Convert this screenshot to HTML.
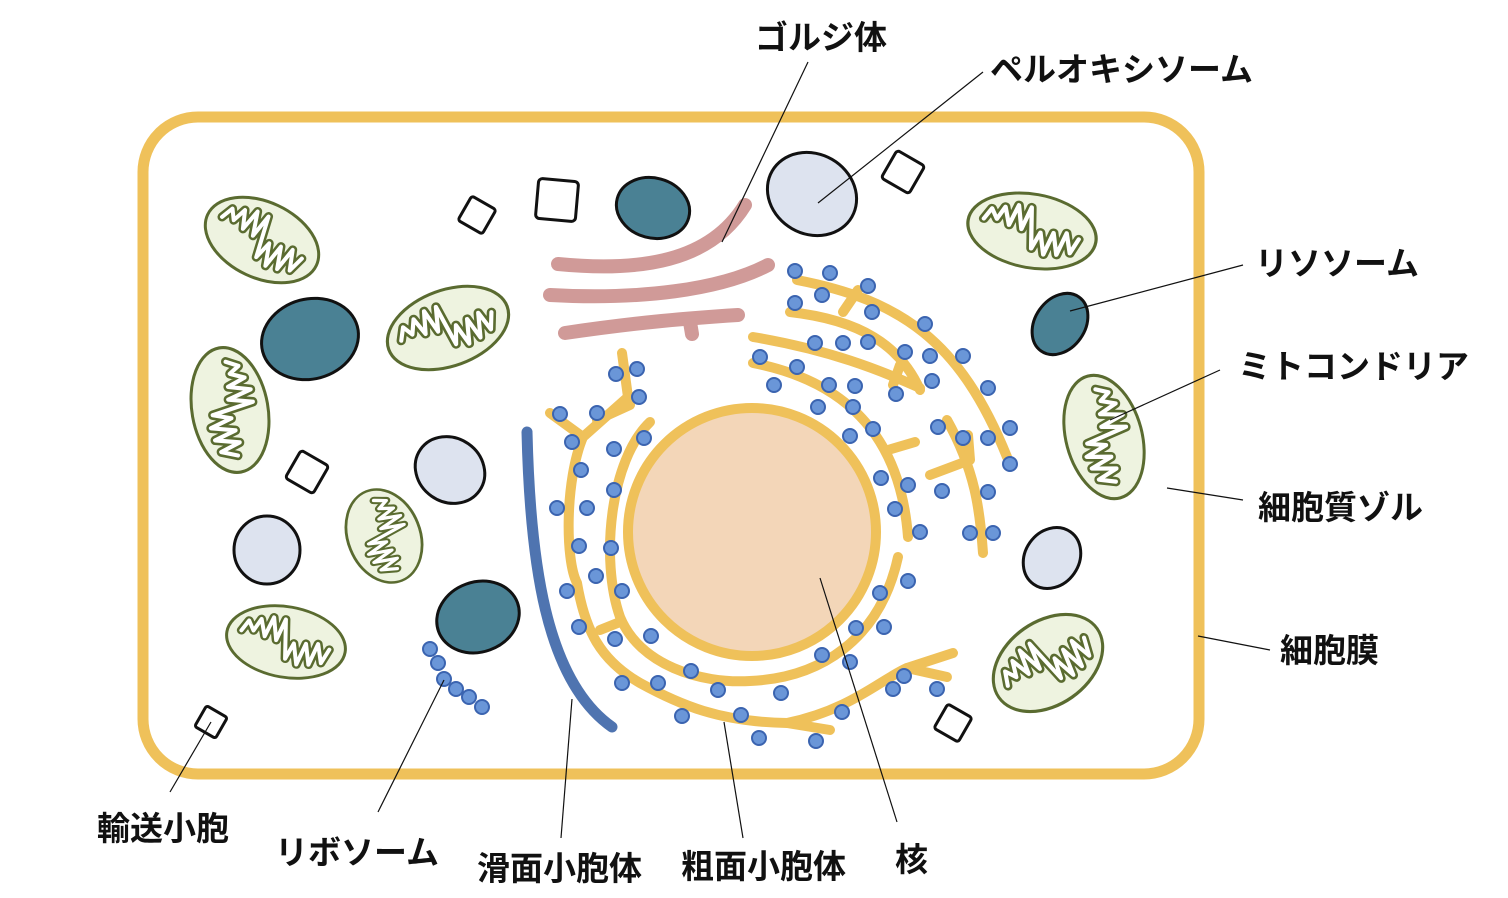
<!DOCTYPE html>
<html><head><meta charset="utf-8"><style>
html,body{margin:0;padding:0;background:#fff;}
svg{display:block}
text{font-family:"Liberation Sans","Noto Sans CJK JP",sans-serif;font-weight:bold;font-size:33px;fill:#111}
</style></head><body>
<svg width="1508" height="898" viewBox="0 0 1508 898" xmlns="http://www.w3.org/2000/svg">
<defs>
<g id="mito">
<ellipse cx="0" cy="0" rx="60" ry="38" fill="#eef3e0" stroke="#5a6b30" stroke-width="3"/>
<path d="M-46,-4 L-40,-16 L-34,-6 L-28,-20 L-22,-2 L-16,-24 L-10,0 L-4,-24 L2,18 L8,0 L14,22 L20,-2 L26,20 L32,-4 L38,16 L44,0" fill="none" stroke="#5a6b30" stroke-width="9" stroke-linejoin="round" stroke-linecap="round"/>
<path d="M-46,-4 L-40,-16 L-34,-6 L-28,-20 L-22,-2 L-16,-24 L-10,0 L-4,-24 L2,18 L8,0 L14,22 L20,-2 L26,20 L32,-4 L38,16 L44,0" fill="none" stroke="#fff" stroke-width="4" stroke-linejoin="round" stroke-linecap="round"/>
</g>
<rect id="sq" x="-1" y="-1" width="2" height="2" rx="0.2" fill="#fff" stroke="#111" stroke-width="3" vector-effect="non-scaling-stroke"/>
</defs>

<rect x="143" y="117" width="1056" height="657" rx="55" fill="#fff" stroke="#efc15a" stroke-width="11"/>

<use href="#mito" transform="translate(262,240) rotate(25)"/>
<use href="#mito" transform="translate(448,328) rotate(-20) scale(1.05,1)"/>
<use href="#mito" transform="translate(230,410) rotate(80) scale(1.05,1)"/>
<use href="#mito" transform="translate(384,536) rotate(68) scale(0.8,0.95)"/>
<use href="#mito" transform="translate(286,642) rotate(10) scale(1,0.93)"/>
<use href="#mito" transform="translate(1032,231) rotate(10) scale(1.08,0.97)"/>
<use href="#mito" transform="translate(1104,437) rotate(75) scale(1.05,1)"/>
<use href="#mito" transform="translate(1048,663) rotate(-35) scale(1,1.1)"/>

<g fill="#4a8194" stroke="#111" stroke-width="3">
<ellipse cx="653" cy="208" rx="37" ry="30" transform="rotate(15 653 208)"/>
<ellipse cx="310" cy="339" rx="49" ry="40" transform="rotate(-15 310 339)"/>
<ellipse cx="478" cy="617" rx="42" ry="35" transform="rotate(-20 478 617)"/>
<ellipse cx="1060" cy="324" rx="25" ry="33" transform="rotate(35 1060 324)"/>
</g>
<g fill="#dde3ef" stroke="#111" stroke-width="3">
<ellipse cx="812" cy="194" rx="46" ry="40" transform="rotate(30 812 194)"/>
<ellipse cx="450" cy="470" rx="36" ry="32" transform="rotate(35 450 470)"/>
<ellipse cx="267" cy="550" rx="33" ry="34"/>
<ellipse cx="1052" cy="558" rx="27" ry="32" transform="rotate(35 1052 558)"/>
</g>
<use href="#sq" transform="translate(477,215) rotate(30) scale(14)"/>
<use href="#sq" transform="translate(557,200) rotate(5) scale(20)"/>
<use href="#sq" transform="translate(903,172) rotate(30) scale(16)"/>
<use href="#sq" transform="translate(307,472) rotate(30) scale(16)"/>
<use href="#sq" transform="translate(211,722) rotate(30) scale(12)"/>
<use href="#sq" transform="translate(953,723) rotate(30) scale(14)"/>

<g fill="none" stroke="#d09a98" stroke-width="14" stroke-linecap="round">
<path d="M558,264 C640,272 710,262 745,205"/>
<path d="M550,295 C640,300 720,290 768,265"/>
<path d="M565,333 C640,322 690,318 738,315"/>
<path d="M690,322 L692,334"/>
</g>

<circle cx="752" cy="532" r="124" fill="#f3d6b8" stroke="#efc15a" stroke-width="10"/>

<path d="M527,432 C530,560 545,680 612,727" fill="none" stroke="#4f74b0" stroke-width="11" stroke-linecap="round"/>

<g fill="none" stroke="#efc15a" stroke-width="10" stroke-linecap="round" stroke-linejoin="round">
<path d="M650,422 C610,460 600,560 620,617 C640,665 700,684 750,681 C820,678 880,640 898,557"/>
<path d="M622,353 L628,397 L583,437 C565,480 565,560 577,583 C585,630 600,660 640,683 C680,705 720,722 787,723 C850,710 880,680 907,668 L953,653"/>
<path d="M907,668 L947,677"/>
<path d="M550,413 L583,437"/>
<path d="M597,420 L630,405"/>
<path d="M600,630 L620,622"/>
<path d="M787,723 L830,730"/>
<path d="M797,280 C900,300 960,340 1007,457"/>
<path d="M790,312 C860,320 900,345 920,390"/>
<path d="M753,337 C830,350 880,370 920,388"/>
<path d="M753,363 C840,380 900,430 908,537"/>
<path d="M947,420 C975,470 980,510 983,553"/>
<path d="M843,312 L858,290"/>
<path d="M893,385 L900,365"/>
<path d="M888,450 L915,442"/>
<path d="M930,475 L970,460 L968,435"/>
</g>

<g fill="#6a96d8" stroke="#3b64b0" stroke-width="2">
<circle cx="795" cy="271" r="7"/><circle cx="830" cy="273" r="7"/><circle cx="868" cy="286" r="7"/><circle cx="795" cy="303" r="7"/><circle cx="822" cy="295" r="7"/><circle cx="872" cy="312" r="7"/><circle cx="925" cy="324" r="7"/><circle cx="963" cy="356" r="7"/><circle cx="988" cy="388" r="7"/><circle cx="1010" cy="428" r="7"/><circle cx="1010" cy="464" r="7"/><circle cx="988" cy="492" r="7"/><circle cx="970" cy="533" r="7"/><circle cx="993" cy="533" r="7"/>
<circle cx="760" cy="357" r="7"/><circle cx="797" cy="367" r="7"/><circle cx="774" cy="385" r="7"/><circle cx="815" cy="343" r="7"/><circle cx="843" cy="343" r="7"/><circle cx="868" cy="342" r="7"/><circle cx="905" cy="352" r="7"/><circle cx="930" cy="356" r="7"/><circle cx="932" cy="381" r="7"/><circle cx="829" cy="385" r="7"/><circle cx="855" cy="386" r="7"/><circle cx="818" cy="407" r="7"/><circle cx="853" cy="407" r="7"/><circle cx="850" cy="436" r="7"/><circle cx="873" cy="429" r="7"/><circle cx="896" cy="394" r="7"/><circle cx="938" cy="427" r="7"/><circle cx="963" cy="438" r="7"/><circle cx="988" cy="438" r="7"/><circle cx="942" cy="491" r="7"/><circle cx="908" cy="485" r="7"/><circle cx="881" cy="478" r="7"/><circle cx="895" cy="509" r="7"/><circle cx="920" cy="532" r="7"/>
<circle cx="616" cy="374" r="7"/><circle cx="637" cy="369" r="7"/><circle cx="639" cy="397" r="7"/><circle cx="560" cy="414" r="7"/><circle cx="597" cy="413" r="7"/><circle cx="572" cy="442" r="7"/><circle cx="614" cy="449" r="7"/><circle cx="644" cy="438" r="7"/><circle cx="581" cy="470" r="7"/><circle cx="557" cy="508" r="7"/><circle cx="587" cy="508" r="7"/><circle cx="614" cy="490" r="7"/><circle cx="611" cy="548" r="7"/><circle cx="579" cy="546" r="7"/><circle cx="596" cy="576" r="7"/><circle cx="567" cy="591" r="7"/><circle cx="622" cy="591" r="7"/><circle cx="579" cy="627" r="7"/><circle cx="615" cy="639" r="7"/><circle cx="651" cy="636" r="7"/><circle cx="622" cy="683" r="7"/><circle cx="658" cy="683" r="7"/><circle cx="691" cy="671" r="7"/><circle cx="718" cy="690" r="7"/><circle cx="781" cy="693" r="7"/><circle cx="682" cy="716" r="7"/><circle cx="741" cy="715" r="7"/><circle cx="759" cy="738" r="7"/><circle cx="816" cy="741" r="7"/><circle cx="822" cy="655" r="7"/><circle cx="850" cy="662" r="7"/><circle cx="856" cy="628" r="7"/><circle cx="884" cy="627" r="7"/><circle cx="880" cy="593" r="7"/><circle cx="908" cy="581" r="7"/><circle cx="842" cy="712" r="7"/><circle cx="893" cy="689" r="7"/><circle cx="904" cy="676" r="7"/><circle cx="937" cy="689" r="7"/>
<circle cx="430" cy="649" r="7"/><circle cx="438" cy="663" r="7"/><circle cx="444" cy="679" r="7"/><circle cx="456" cy="689" r="7"/><circle cx="469" cy="697" r="7"/><circle cx="482" cy="707" r="7"/>
</g>

<g stroke="#111" stroke-width="1.2" fill="none">
<line x1="808" y1="62" x2="722" y2="242"/>
<line x1="983" y1="72" x2="818" y2="203"/>
<line x1="1243" y1="265" x2="1070" y2="311"/>
<line x1="1220" y1="370" x2="1110" y2="420"/>
<line x1="1243" y1="500" x2="1167" y2="488"/>
<line x1="1270" y1="650" x2="1198" y2="636"/>
<line x1="170" y1="792" x2="211" y2="722"/>
<line x1="378" y1="812" x2="444" y2="680"/>
<line x1="561" y1="838" x2="572" y2="699"/>
<line x1="743" y1="838" x2="724" y2="722"/>
<line x1="897" y1="822" x2="820" y2="578"/>
</g>

<text x="755" y="49">ゴルジ体</text>
<text x="990" y="81">ペルオキシソーム</text>
<text x="1255" y="275">リソソーム</text>
<text x="1238" y="378">ミトコンドリア</text>
<text x="1258" y="519">細胞質ゾル</text>
<text x="1280" y="662">細胞膜</text>
<text x="97" y="840">輸送小胞</text>
<text x="275" y="864">リボソーム</text>
<text x="477" y="880">滑面小胞体</text>
<text x="681" y="878">粗面小胞体</text>
<text x="895" y="871">核</text>
</svg>
</body></html>
